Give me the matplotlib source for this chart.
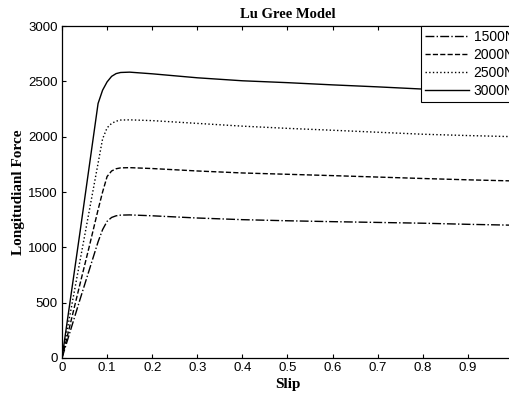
import matplotlib
matplotlib.use("Agg")
from matplotlib import pyplot as plt

# values
slip = [0, 0.02, 0.04, 0.06, 0.08, 0.09, 0.10, 0.11, 0.12, 0.13, 0.15,
        0.2, 0.3, 0.4, 0.5, 0.6, 0.7, 0.8, 0.9, 1.0]
force_1500 = [0, 265, 530, 790, 1050, 1160, 1235, 1270, 1285, 1291, 1293,
              1285, 1265, 1250, 1240, 1232, 1225, 1218, 1208, 1200]
force_2000 = [0, 335, 670, 1000, 1340, 1500, 1640, 1690, 1710, 1718, 1720,
              1712, 1690, 1672, 1660, 1648, 1635, 1622, 1610, 1600]
force_2500 = [0, 440, 880, 1320, 1760, 1980, 2080, 2120, 2140, 2150, 2152,
              2145, 2120, 2095, 2075, 2058, 2040, 2022, 2010, 2000]
force_3000 = [0, 570, 1140, 1720, 2300, 2420, 2495, 2545, 2570, 2580, 2583,
              2568, 2532, 2505, 2488, 2468, 2450, 2430, 2415, 2400]
series = [("1500N", force_1500, "-."), ("2000N", force_2000, "--"),
          ("2500N", force_2500, ":"), ("3000N", force_3000, "-")]
x_ticks = [0, 0.1, 0.2, 0.3, 0.4, 0.5, 0.6, 0.7, 0.8, 0.9]
x_tick_labels = ["0", "0.1", "0.2", "0.3", "0.4", "0.5", "0.6", "0.7", "0.8", "0.9"]
y_ticks = [0, 500, 1000, 1500, 2000, 2500, 3000]

plt.rcParams['font.family'] = ['Liberation Sans', 'DejaVu Sans']
serif_bold = dict(family='Liberation Serif', weight='bold', size=11)

fig = plt.figure(figsize=(5.1, 3.96), dpi=100)
# the reference is cropped on the right: the axes run just past the edge
ax = fig.add_axes([62 / 510, 38 / 396, 451 / 510, 332 / 396])

for label, force, style in series:
    ax.plot(slip, force, style, color='k', linewidth=1.0, label=label)

ax.set_xlim(0, 1)
ax.set_ylim(0, 3000)
ax.set_xticks(x_ticks)
ax.set_xticklabels(x_tick_labels)
ax.set_yticks(y_ticks)
ax.tick_params(direction='in', length=3, width=0.8, labelsize=9.5,
               top=True, right=True, colors='k', pad=3)
for s in ax.spines.values():
    s.set_linewidth(0.9)
ax.spines['right'].set_visible(False)

ax.set_title("Lu Gree Model", fontdict=dict(serif_bold, size=10.5), pad=6)
ax.set_xlabel("Slip", fontdict=serif_bold, labelpad=3)
ax.set_ylabel("Longitudianl Force", fontdict=serif_bold, labelpad=2)

leg = ax.legend(loc='upper right', bbox_to_anchor=(1.013, 1.0), fontsize=10,
                handlelength=3.2, handletextpad=0.3, borderaxespad=0,
                fancybox=False, borderpad=0.3, labelspacing=0.28)
leg.get_frame().set_edgecolor('k')
leg.get_frame().set_linewidth(0.8)
leg.get_frame().set_alpha(1)

fig.savefig("out.png", dpi=100)
